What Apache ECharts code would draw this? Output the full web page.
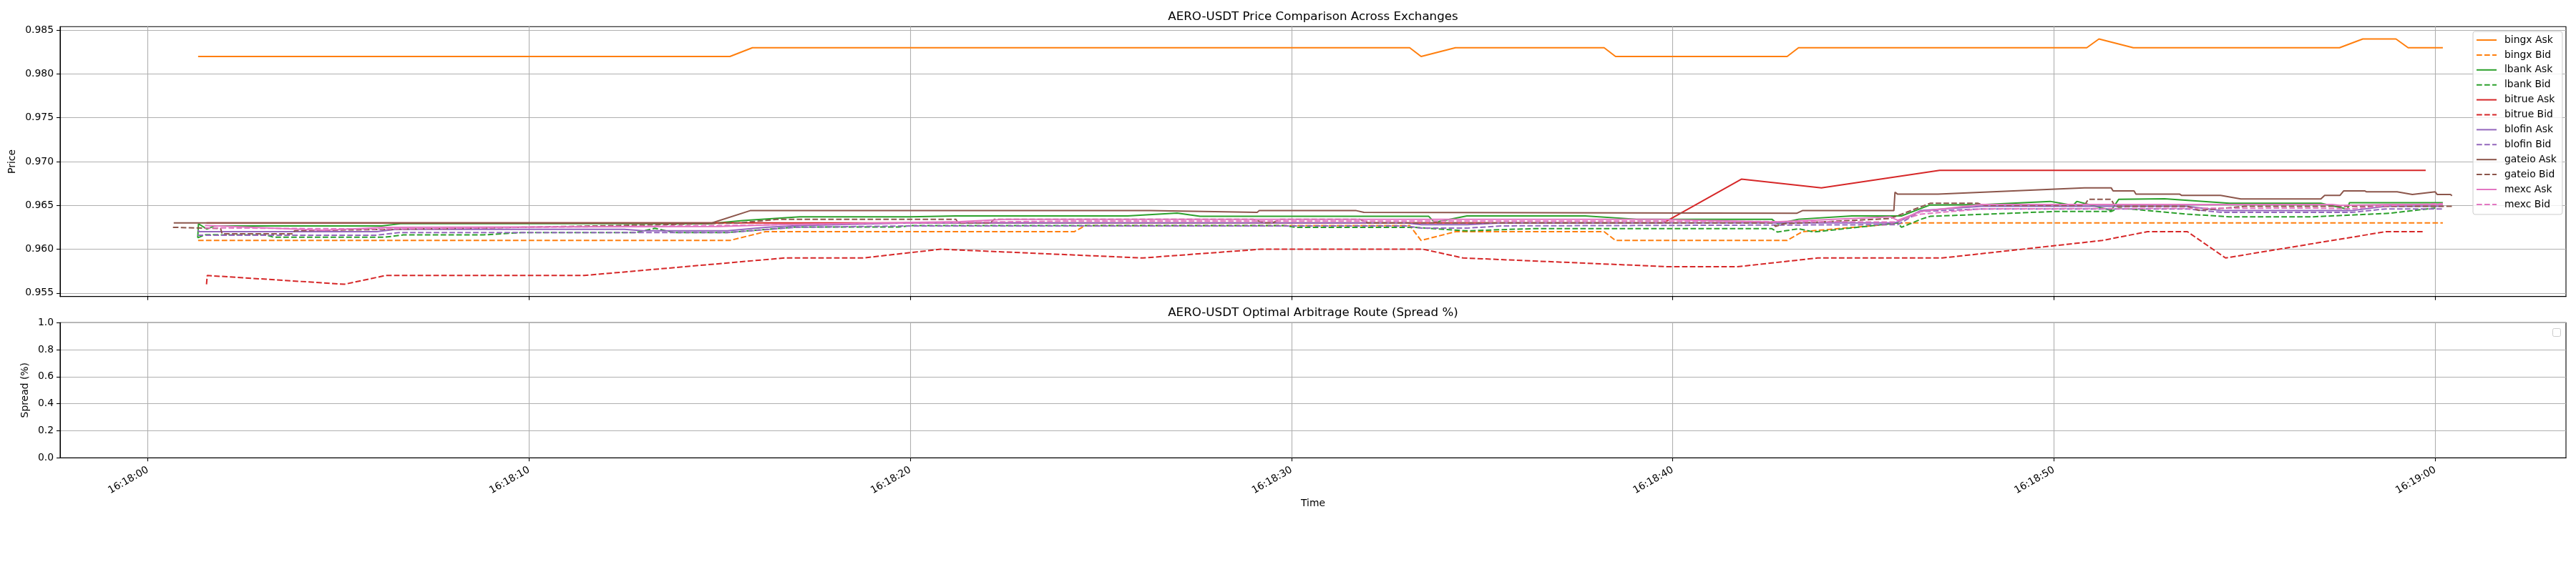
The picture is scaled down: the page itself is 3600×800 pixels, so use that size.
<!DOCTYPE html>
<html><head><meta charset="utf-8">
<script src="https://cdn.jsdelivr.net/npm/echarts@6/dist/echarts.min.js"></script>
<style>html,body{margin:0;padding:0;background:#fff}#c{width:3600px;height:800px}</style>
</head><body><div id="c"></div>
<script>
// time values are seconds after 16:18:00
const xTickSeconds = [0, 10, 20, 30, 40, 50, 60];
const xTickLabels = ['16:18:00', '16:18:10', '16:18:20', '16:18:30', '16:18:40', '16:18:50', '16:19:00'];
const priceTicks = [0.955, 0.960, 0.965, 0.970, 0.975, 0.980, 0.985];
const spreadTicks = [0.0, 0.2, 0.4, 0.6, 0.8, 1.0];
const seriesNames = ['bingx Ask', 'bingx Bid', 'lbank Ask', 'lbank Bid', 'bitrue Ask', 'bitrue Bid',
  'blofin Ask', 'blofin Bid', 'gateio Ask', 'gateio Bid', 'mexc Ask', 'mexc Bid'];

const bingxAsk = [[1.32,0.982],[15.27,0.982],[15.86,0.983],[33.1,0.983],[33.4,0.982],[34.3,0.983],[38.2,0.983],[38.5,0.982],[43.0,0.982],[43.3,0.983],[50.86,0.983],[51.18,0.984],[52.08,0.983],[57.49,0.983],[58.1,0.984],[58.97,0.984],[59.29,0.983],[60.2,0.983]];
const bingxBid = [[1.32,0.961],[15.27,0.961],[16.2,0.962],[24.3,0.962],[24.6,0.9627],[33.1,0.9627],[33.4,0.961],[34.3,0.962],[38.2,0.962],[38.5,0.961],[43.0,0.961],[43.4,0.962],[46.1,0.963],[60.2,0.963]];
const lbankAsk = [[1.31,0.9613],[1.33,0.9629],[1.55,0.9623],[1.75,0.96266],[6.13,0.96266],[6.67,0.96293],[13.1,0.96293],[14.7,0.9629],[15.6,0.96326],[17.1,0.9637],[20.0,0.9637],[21.2,0.9638],[25.7,0.9638],[27.0,0.96413],[27.6,0.96375],[33.6,0.96375],[33.75,0.96307],[34.6,0.9638],[37.7,0.9638],[39.05,0.96342],[42.6,0.96342],[42.75,0.9629],[43.3,0.96342],[44.7,0.9638],[46.0,0.9638],[46.75,0.96505],[48.2,0.9651],[49.9,0.96546],[50.5,0.965],[50.6,0.96546],[51.5,0.96443],[51.7,0.9657],[52.9,0.96575],[54.6,0.96524],[57.0,0.96524],[57.7,0.96457],[57.75,0.9653],[60.2,0.9653]];
const lbankBid = [[1.31,0.9613],[1.5,0.96165],[3.1,0.96163],[3.3,0.96136],[6.2,0.96136],[6.7,0.96163],[8.8,0.96163],[9.8,0.9619],[12.8,0.9619],[13.3,0.96239],[13.8,0.9619],[15.2,0.9619],[17.0,0.96253],[19.7,0.96253],[20.0,0.9627],[29.8,0.9627],[30.1,0.9625],[33.2,0.9625],[34.6,0.9621],[36.3,0.96234],[42.6,0.96234],[42.75,0.96196],[43.3,0.96234],[43.7,0.96196],[45.9,0.963],[46.0,0.9625],[46.5,0.9634],[46.75,0.96375],[50.0,0.9643],[51.5,0.9643],[51.7,0.9647],[53.5,0.964],[54.6,0.9637],[56.8,0.9637],[58.8,0.9641],[60.0,0.9647]];
const bitrueAsk = [[1.54,0.963],[39.75,0.963],[41.8,0.968],[43.9,0.967],[47.0,0.969],[59.75,0.969]];
const bitrueBid = [[1.54,0.956],[1.56,0.957],[5.16,0.956],[6.24,0.957],[11.45,0.957],[16.7,0.959],[18.76,0.959],[20.8,0.960],[26.1,0.959],[29.2,0.960],[33.45,0.960],[34.5,0.959],[39.9,0.958],[41.7,0.958],[43.8,0.959],[47.07,0.959],[51.27,0.961],[52.45,0.962],[53.5,0.962],[54.5,0.959],[58.7,0.962],[59.7,0.962]];
const blofinAsk = [[1.31,0.9622],[1.35,0.962],[6.0,0.962],[6.5,0.96226],[12.5,0.96226],[13.0,0.9621],[15.2,0.9621],[16.2,0.9625],[17.1,0.9627],[20.0,0.963],[33.0,0.963],[33.4,0.9628],[34.6,0.9628],[35.5,0.963],[45.8,0.963],[45.9,0.9631],[46.5,0.9644],[48.1,0.96489],[53.5,0.96489],[54.4,0.9644],[57.8,0.9644],[58.7,0.96489],[60.2,0.96489]];
const blofinBid = [[1.31,0.9616],[6.0,0.9616],[6.6,0.9619],[13.0,0.9619],[15.2,0.9619],[17.0,0.9625],[20.0,0.96266],[33.0,0.96266],[33.4,0.9624],[34.6,0.9624],[35.5,0.96266],[45.9,0.9628],[46.5,0.9643],[48.1,0.9646],[53.5,0.9646],[54.4,0.9642],[57.8,0.9642],[58.7,0.9646],[60.2,0.9646]];
const gateioAsk = [[0.68,0.963],[14.8,0.963],[15.8,0.9644],[26.3,0.9644],[29.1,0.9642],[29.15,0.9644],[31.7,0.9644],[31.9,0.9642],[43.25,0.9641],[43.4,0.9644],[45.8,0.9644],[45.83,0.9665],[45.9,0.96628],[46.96,0.96628],[50.8,0.96701],[51.5,0.96701],[51.55,0.96666],[52.1,0.96666],[52.15,0.96628],[53.3,0.96628],[53.35,0.96614],[54.37,0.96614],[54.9,0.96573],[57.0,0.96573],[57.1,0.96614],[57.5,0.96614],[57.6,0.96666],[58.15,0.96666],[58.2,0.96655],[59.0,0.96655],[59.4,0.96625],[60.0,0.96655],[60.05,0.96625],[60.4,0.96625],[60.44,0.9661]];
const gateioBid = [[0.66,0.9625],[0.68,0.96236],[1.91,0.96236],[1.95,0.96176],[3.8,0.96176],[3.85,0.96211],[9.0,0.96244],[13.5,0.9628],[15.5,0.963],[16.5,0.9634],[21.2,0.9634],[21.25,0.963],[22.1,0.963],[22.2,0.9634],[29.0,0.9634],[29.3,0.963],[29.5,0.963],[29.7,0.9634],[31.8,0.9634],[32.0,0.963],[42.6,0.963],[42.7,0.9626],[42.9,0.9629],[45.7,0.9635],[46.75,0.96524],[48.0,0.96524],[48.2,0.965],[50.8,0.965],[50.9,0.9657],[51.5,0.9657],[51.6,0.96489],[53.5,0.96489],[53.8,0.96443],[55.0,0.96489],[60.44,0.96489]];
const mexcAsk = [[1.5,0.96271],[4.6,0.96217],[6.2,0.9625],[15.0,0.9626],[16.5,0.9628],[21.3,0.96315],[22.5,0.9634],[39.6,0.9634],[42.6,0.9631],[45.7,0.9637],[45.9,0.9633],[46.5,0.9643],[48.1,0.96511],[57.3,0.96511],[57.5,0.965],[58.8,0.96511],[60.2,0.96511]];
const mexcBid = [[1.5,0.96244],[6.0,0.9623],[10.0,0.9625],[15.0,0.9627],[20.0,0.963],[24.0,0.9632],[39.6,0.9632],[45.8,0.9631],[46.5,0.964],[48.1,0.9646],[56.8,0.9647],[57.8,0.9646],[58.8,0.965],[60.2,0.9652]];

const seriesData = [bingxAsk, bingxBid, lbankAsk, lbankBid, bitrueAsk, bitrueBid, blofinAsk, blofinBid, gateioAsk, gateioBid, mexcAsk, mexcBid];
const colors = ['#ff7f0e','#ff7f0e','#2ca02c','#2ca02c','#d62728','#d62728','#9467bd','#9467bd','#8c564b','#8c564b','#e377c2','#e377c2'];

const FONT = 'DejaVu Sans';
const FS = 13.9;
const X_MIN = -2.30, X_MAX = 63.43;
const L = 84, R = 14;
const G0_TOP = 37.3, G0_H = 377.4;
const G1_TOP = 451.3, G1_H = 188.9;
const CENTER_X = (L + 3600 - R) / 2;

function xLabel(v) {
  for (let i = 0; i < xTickSeconds.length; i++) {
    if (Math.abs(v - xTickSeconds[i]) < 1e-6) return xTickLabels[i];
  }
  return '';
}
function isOn(v, arr) { return arr.some(a => Math.abs(a - v) < 1e-9); }

const gridLine = { show: true, lineStyle: { color: '#b0b0b0', width: 1.1 } };
const axisLine = { show: true, onZero: false, lineStyle: { color: '#000', width: 1.1 } };
const axisTick = { show: true, inside: false, length: 5, lineStyle: { color: '#000', width: 1.1 } };

function xAxis(gi, showLabels) {
  return {
    type: 'value', gridIndex: gi, min: X_MIN, max: X_MAX,
    axisLine, splitLine: gridLine,
    axisTick: Object.assign({ customValues: xTickSeconds }, axisTick),
    axisLabel: showLabels ? {
      show: true, customValues: xTickSeconds, rotate: 30, margin: 16,
      fontFamily: FONT, fontSize: FS, color: '#000', formatter: xLabel
    } : { show: false },
    name: showLabels ? 'Time' : '', nameLocation: 'middle', nameGap: 57,
    nameTextStyle: { fontFamily: FONT, fontSize: FS, color: '#000' }
  };
}

const series = seriesNames.map((n, i) => ({
  name: n, type: 'line', xAxisIndex: 0, yAxisIndex: 0,
  data: seriesData[i], showSymbol: false, symbol: 'none', animation: false,
  emphasis: { disabled: true },
  itemStyle: { color: colors[i] },
  lineStyle: { color: colors[i], width: 2, type: n.endsWith('Bid') ? [7.7, 3.3] : 'solid' }
}));

const option = {
  backgroundColor: '#fff',
  animation: false,
  grid: [
    { left: L, right: R, top: G0_TOP, height: G0_H, show: true, borderColor: '#000', borderWidth: 1.1, backgroundColor: 'transparent' },
    { left: L, right: R, top: G1_TOP, height: G1_H, show: true, borderColor: '#000', borderWidth: 1.1, backgroundColor: 'transparent' }
  ],
  xAxis: [xAxis(0, false), xAxis(1, true)],
  yAxis: [
    {
      type: 'value', gridIndex: 0, min: 0.9546, max: 0.9854, splitNumber: 5,
      axisLine, splitLine: gridLine,
      axisTick: Object.assign({ customValues: priceTicks }, axisTick),
      axisLabel: { customValues: priceTicks, margin: 9, fontFamily: FONT, fontSize: FS, color: '#000',
        formatter: v => isOn(v, priceTicks) ? v.toFixed(3) : '' },
      name: 'Price', nameLocation: 'middle', nameGap: 56,
      nameTextStyle: { fontFamily: FONT, fontSize: FS, color: '#000' }
    },
    {
      type: 'value', gridIndex: 1, min: 0, max: 1, interval: 0.2,
      axisLine, splitLine: gridLine, axisTick,
      axisLabel: { margin: 9, fontFamily: FONT, fontSize: FS, color: '#000', formatter: v => v.toFixed(1) },
      name: 'Spread (%)', nameLocation: 'middle', nameGap: 38,
      nameTextStyle: { fontFamily: FONT, fontSize: FS, color: '#000' }
    }
  ],
  legend: {
    show: true, orient: 'vertical', left: 3456, top: 44,
    data: seriesNames, selectedMode: false,
    itemWidth: 28, itemHeight: 14, itemGap: 6.9,
    padding: [5, 8, 7, 4],
    itemStyle: { opacity: 0, borderWidth: 0 },
    backgroundColor: 'rgba(255,255,255,0.8)', borderColor: '#cccccc', borderWidth: 1, borderRadius: 3,
    textStyle: { fontFamily: FONT, fontSize: FS, color: '#000', padding: [0, 0, 0, 6] }
  },
  graphic: [
    { type: 'text', x: CENTER_X, y: 24, silent: true,
      style: { text: 'AERO-USDT Price Comparison Across Exchanges', fontFamily: FONT, fontSize: 16.7, fill: '#000', align: 'center', verticalAlign: 'middle' } },
    { type: 'text', x: CENTER_X, y: 438, silent: true,
      style: { text: 'AERO-USDT Optimal Arbitrage Route (Spread %)', fontFamily: FONT, fontSize: 16.7, fill: '#000', align: 'center', verticalAlign: 'middle' } },
    { type: 'rect', silent: true, shape: { x: 3567.5, y: 459.5, width: 11, height: 11, r: 2 },
      style: { fill: 'rgba(255,255,255,0.8)', stroke: '#cccccc', lineWidth: 1 } }
  ],
  series
};

const chart = echarts.init(document.getElementById('c'), null, { renderer: 'canvas' });
chart.setOption(option);
</script>
</body></html>
